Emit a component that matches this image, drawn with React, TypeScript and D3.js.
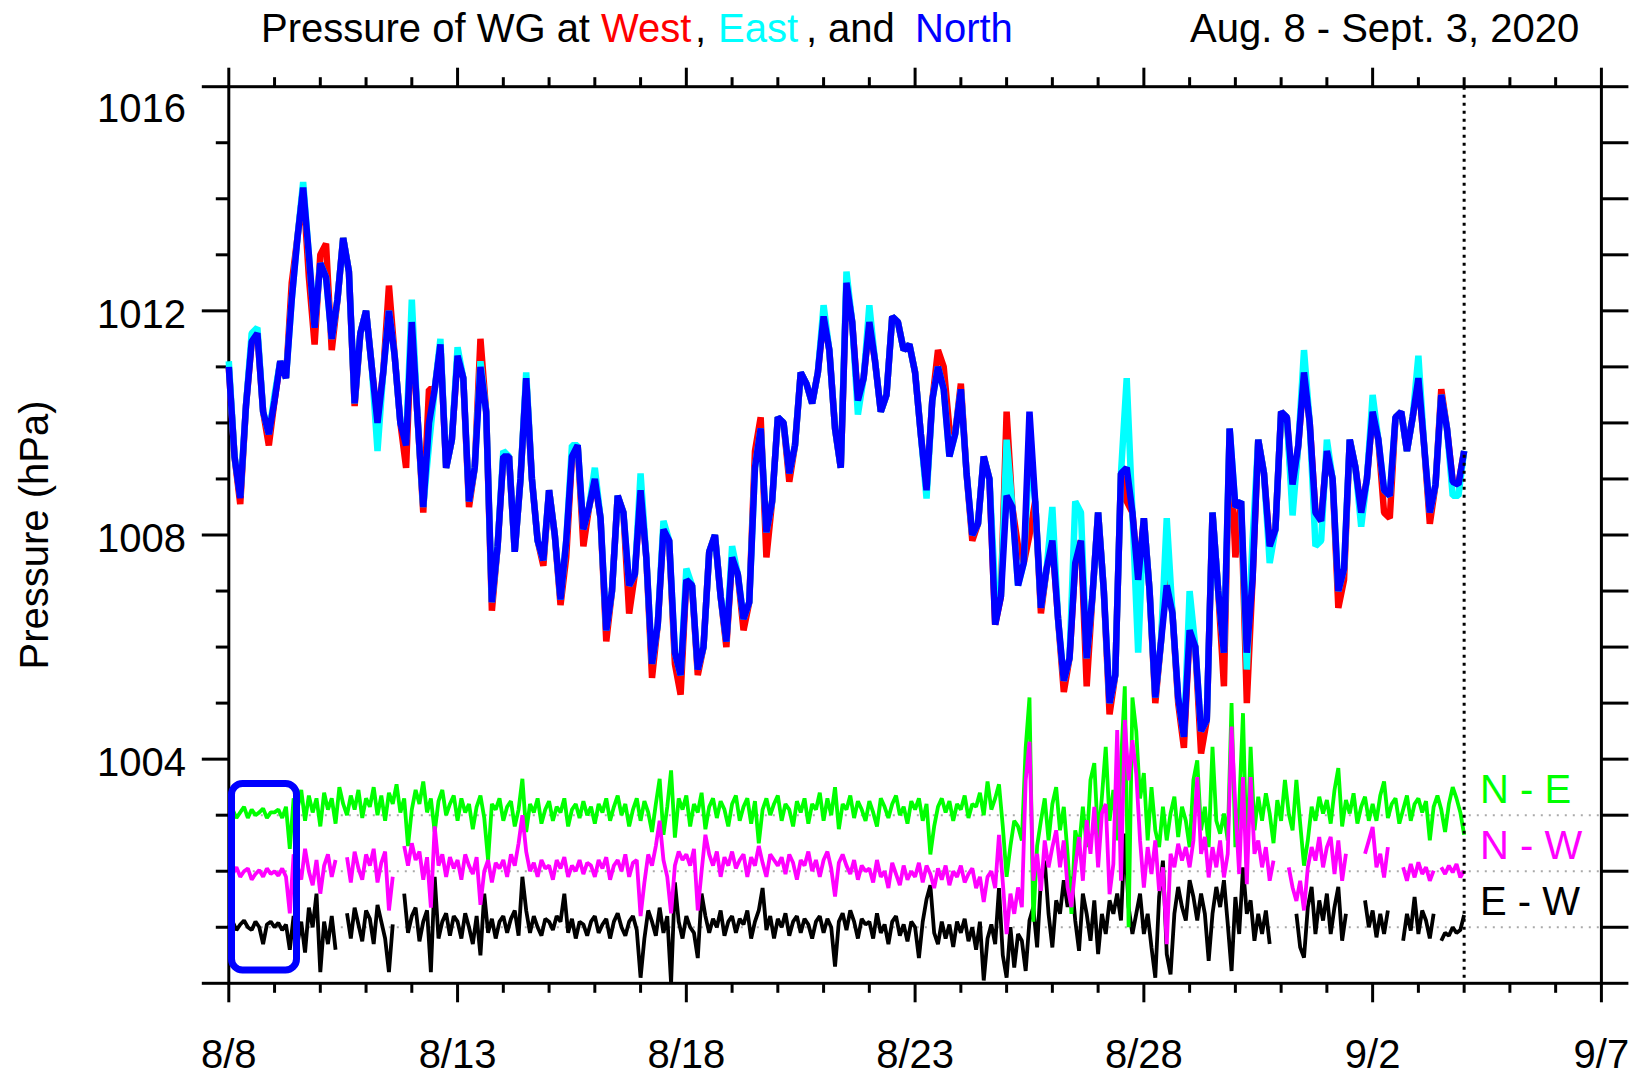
import React from 'react';
import * as d3 from 'd3';

// ---------------- data ----------------
// main series: one value every 3 hours, starting 8/8 00:00 (day 0)
const MAIN_STEP_DAYS = 3 / 24;
// difference series: one value every 2 hours, starting 8/8 00:00
const DIFF_STEP_DAYS = 2 / 24;

const northP = [
  1011.0, 1009.4, 1008.66, 1010.3, 1011.45, 1011.6, 1010.2, 1009.8,
  1010.4, 1011.1, 1010.8, 1012.2, 1013.3, 1014.2, 1013.0, 1011.7,
  1012.85, 1012.6, 1011.5, 1012.2, 1013.3, 1012.7, 1010.35, 1011.6,
  1012.0, 1011.0, 1010.0, 1010.9, 1012.0, 1011.2, 1010.0, 1009.6,
  1011.8, 1010.1, 1008.5, 1010.0, 1010.6, 1011.4, 1009.2, 1009.7,
  1011.2, 1010.8, 1008.6, 1009.2, 1011.0, 1010.2, 1006.8, 1007.8,
  1009.4, 1009.4, 1007.7, 1009.0, 1010.8, 1009.0, 1007.9, 1007.55,
  1008.8, 1008.0, 1006.85, 1007.9, 1009.4, 1009.6, 1008.1, 1008.5,
  1009.0, 1008.3, 1006.3, 1007.0, 1008.7, 1008.4, 1007.1, 1007.3,
  1008.8, 1007.6, 1005.7, 1006.4, 1008.1, 1007.9, 1005.9, 1005.5,
  1007.2, 1007.1, 1005.6, 1006.0, 1007.7, 1008.0, 1006.9, 1006.1,
  1007.6, 1007.3, 1006.5, 1006.8, 1009.2, 1009.9, 1008.05, 1008.6,
  1010.1, 1010.0, 1009.1, 1009.6, 1010.9, 1010.7, 1010.35, 1010.9,
  1011.9, 1011.3, 1009.9, 1009.2, 1012.5, 1011.8, 1010.4, 1010.8,
  1011.8, 1011.1, 1010.2, 1010.5, 1011.9, 1011.8, 1011.3, 1011.4,
  1010.9, 1009.8, 1008.8, 1010.4, 1011.0, 1010.6, 1009.4, 1009.8,
  1010.6, 1009.1, 1008.0, 1008.2, 1009.4, 1009.0, 1006.4, 1006.9,
  1008.7, 1008.5, 1007.1, 1007.5, 1010.2, 1008.6, 1006.7, 1007.4,
  1007.9, 1006.5, 1005.4, 1005.8, 1007.5, 1007.9, 1005.8, 1006.9,
  1008.4, 1007.0, 1005.0, 1005.5, 1009.1, 1009.2, 1008.4, 1007.2,
  1008.3, 1007.0, 1005.1, 1006.1, 1007.1, 1006.6, 1005.1, 1004.4,
  1006.3, 1006.0, 1004.5, 1004.7, 1008.4, 1007.0, 1005.9, 1009.9,
  1008.5, 1008.6, 1005.9, 1007.2, 1009.7, 1009.1, 1007.8, 1008.1,
  1010.2, 1010.1, 1008.9, 1009.6, 1010.9, 1010.0, 1008.4, 1008.25,
  1009.5, 1009.0, 1007.0, 1007.4, 1009.7, 1009.2, 1008.4, 1009.0,
  1010.2, 1009.7, 1008.8, 1008.7, 1010.1, 1010.2, 1009.5, 1010.1,
  1010.8, 1009.6, 1008.4, 1008.9, 1010.5, 1009.9, 1008.95, 1008.9,
  1009.5,
];

const westP = [
  1011.0, 1009.4, 1008.55, 1010.3, 1011.45, 1011.6, 1010.2, 1009.6,
  1010.4, 1011.1, 1010.8, 1012.5, 1013.3, 1014.2, 1012.6, 1011.4,
  1013.0, 1013.2, 1011.3, 1012.2, 1013.3, 1012.7, 1010.3, 1011.6,
  1012.0, 1011.0, 1010.0, 1010.9, 1012.45, 1011.2, 1010.0, 1009.2,
  1011.8, 1010.1, 1008.4, 1010.6, 1010.6, 1011.4, 1009.2, 1009.7,
  1011.2, 1010.8, 1008.5, 1009.2, 1011.5, 1010.2, 1006.65, 1007.8,
  1009.4, 1009.4, 1007.7, 1009.0, 1010.8, 1009.0, 1007.9, 1007.45,
  1008.8, 1008.0, 1006.75, 1007.6, 1009.4, 1009.6, 1007.8, 1008.5,
  1009.0, 1008.3, 1006.1, 1007.0, 1008.7, 1008.4, 1006.6, 1007.3,
  1008.8, 1007.6, 1005.45, 1006.4, 1008.1, 1007.9, 1005.7, 1005.15,
  1007.2, 1007.1, 1005.5, 1006.0, 1007.7, 1008.0, 1006.9, 1006.0,
  1007.6, 1007.3, 1006.3, 1006.8, 1009.5, 1010.1, 1007.6, 1008.6,
  1010.1, 1010.0, 1008.95, 1009.6, 1010.9, 1010.7, 1010.35, 1010.9,
  1011.9, 1011.3, 1009.9, 1009.2, 1012.5, 1011.8, 1010.4, 1010.8,
  1011.8, 1011.1, 1010.2, 1010.5, 1011.9, 1011.8, 1011.3, 1011.4,
  1010.9, 1009.8, 1008.8, 1010.4, 1011.3, 1011.0, 1009.9, 1009.8,
  1010.7, 1009.1, 1007.9, 1008.2, 1009.4, 1009.0, 1006.4, 1006.9,
  1010.2, 1008.5, 1007.8, 1007.5, 1008.0, 1008.6, 1006.6, 1007.4,
  1007.9, 1006.5, 1005.2, 1005.8, 1007.5, 1007.9, 1005.3, 1006.9,
  1008.4, 1007.0, 1004.8, 1005.5, 1009.1, 1008.6, 1008.4, 1007.2,
  1008.3, 1007.0, 1005.0, 1006.1, 1007.6, 1006.6, 1005.0, 1004.2,
  1006.3, 1006.0, 1004.1, 1004.7, 1008.4, 1007.0, 1005.3, 1009.9,
  1007.6, 1008.6, 1005.0, 1007.2, 1009.7, 1009.1, 1007.8, 1008.1,
  1010.2, 1010.1, 1008.6, 1009.6, 1010.9, 1010.0, 1008.4, 1008.25,
  1009.5, 1009.0, 1006.7, 1007.2, 1009.7, 1009.2, 1008.4, 1009.0,
  1010.2, 1009.7, 1008.4, 1008.3, 1010.1, 1010.2, 1009.5, 1010.1,
  1010.8, 1009.6, 1008.2, 1008.9, 1010.6, 1009.9, 1008.95, 1008.9,
  1009.5,
];

const eastP = [
  1011.1, 1009.4, 1008.7, 1010.3, 1011.6, 1011.7, 1010.2, 1009.8,
  1010.5, 1011.1, 1010.8, 1012.2, 1013.3, 1014.3, 1013.0, 1011.7,
  1012.85, 1012.6, 1011.5, 1012.2, 1013.3, 1012.7, 1010.35, 1011.6,
  1012.0, 1011.0, 1009.5, 1010.9, 1012.0, 1011.2, 1010.0, 1009.7,
  1012.2, 1010.1, 1008.5, 1009.6, 1010.6, 1011.5, 1009.2, 1009.7,
  1011.35, 1010.8, 1008.6, 1009.2, 1011.1, 1010.2, 1006.8, 1007.8,
  1009.5, 1009.4, 1007.7, 1009.0, 1010.9, 1009.0, 1007.9, 1007.55,
  1008.8, 1008.0, 1006.85, 1007.9, 1009.6, 1009.6, 1008.1, 1008.5,
  1009.2, 1008.3, 1006.3, 1007.0, 1008.7, 1008.4, 1007.1, 1007.3,
  1009.1, 1007.6, 1005.7, 1006.4, 1008.25, 1007.9, 1005.9, 1005.5,
  1007.4, 1007.1, 1005.6, 1006.0, 1007.7, 1008.0, 1006.9, 1006.1,
  1007.8, 1007.3, 1006.5, 1006.8, 1009.2, 1009.9, 1008.05, 1008.6,
  1010.1, 1010.0, 1009.1, 1009.6, 1010.9, 1010.7, 1010.35, 1010.9,
  1012.1, 1011.3, 1009.9, 1009.2, 1012.7, 1011.8, 1010.15, 1010.8,
  1012.1, 1011.1, 1010.2, 1010.5, 1011.9, 1011.8, 1011.3, 1011.4,
  1010.9, 1009.8, 1008.65, 1010.4, 1011.0, 1010.6, 1009.4, 1009.8,
  1010.6, 1009.1, 1008.0, 1008.2, 1009.4, 1009.0, 1007.0, 1006.9,
  1009.7, 1008.5, 1007.1, 1007.5, 1009.5, 1008.6, 1006.7, 1007.4,
  1008.5, 1006.5, 1005.4, 1005.8, 1008.6, 1008.4, 1005.8, 1006.9,
  1008.4, 1007.0, 1005.0, 1005.5, 1009.1, 1010.8, 1008.4, 1005.9,
  1008.3, 1007.0, 1005.1, 1006.1, 1008.3, 1006.6, 1005.1, 1004.4,
  1007.0, 1006.0, 1004.5, 1004.7, 1008.4, 1007.0, 1005.9, 1009.9,
  1008.5, 1008.6, 1005.6, 1007.9, 1009.7, 1009.1, 1007.5, 1008.1,
  1010.2, 1010.1, 1008.35, 1009.6, 1011.3, 1010.0, 1007.8, 1007.9,
  1009.7, 1009.0, 1007.0, 1007.4, 1009.7, 1009.2, 1008.15, 1009.0,
  1010.5, 1009.7, 1008.8, 1008.7, 1010.1, 1010.2, 1009.5, 1010.1,
  1011.2, 1009.6, 1008.4, 1008.9, 1010.5, 1009.9, 1008.7, 1008.7,
  1009.5,
];

// differences as plotted (hPa, relative to their own reference level)
const nMinusE: (number | null)[] = [
  0.05, 0.1, -0.05, 0.05, 0.15, -0.05, 0.1, 0.0, 0.05, 0.12, -0.05, 0.05,
  0.05, 0.1, -0.05, 0.15, -0.6, 0.3, 0.1, 0.45, -0.1, 0.35, 0.05, 0.3,
  -0.2, 0.4, 0.1, 0.3, -0.15, 0.5, 0.2, 0.0, 0.35, 0.1, 0.45, -0.05,
  0.3, 0.15, 0.5, 0.0, 0.35, -0.1, 0.4, 0.2, 0.55, 0.05, 0.3, -0.55,
  0.1, 0.45, 0.2, 0.6, 0.05, 0.3, -0.3, 0.25, 0.45, 0.0, 0.2, 0.35,
  -0.1, 0.3, 0.05, 0.2, -0.25, 0.15, 0.35, -0.05, -0.8, 0.2, 0.1, 0.3,
  -0.1, 0.15, 0.25, -0.2, 0.1, 0.65, -0.3, 0.2, 0.05, 0.3, -0.15, 0.1,
  0.25, -0.1, 0.15, 0.05, 0.3, -0.2, 0.1, 0.2, -0.05, 0.25, 0.0, 0.15,
  -0.15, 0.2, 0.05, 0.3, -0.1, 0.15, 0.35, 0.0, 0.2, -0.2, 0.1, 0.3,
  -0.1, 0.25, 0.05, -0.3, 0.2, 0.65, -0.35, 0.15, 0.8, -0.4, 0.3, 0.1,
  0.35, -0.2, 0.2, 0.05, 0.4, -0.25, 0.15, 0.3, -0.05, 0.25, 0.1, -0.2,
  0.2, 0.35, -0.1, 0.15, 0.3, -0.15, 0.25, -0.5, 0.1, 0.3, 0.0, 0.2,
  0.35, -0.1, 0.2, 0.1, -0.2, 0.25, 0.05, 0.3, -0.15, 0.2, 0.1, 0.4,
  -0.1, 0.3, 0.0, 0.5, -0.25, 0.2, 0.1, 0.35, -0.05, 0.25, 0.1, -0.1,
  0.25, 0.05, -0.2, 0.3, 0.15, -0.05, 0.2, 0.35, 0.0, 0.15, -0.15, 0.25,
  0.1, 0.3, -0.1, 0.2, -0.7, -0.2, 0.15, 0.3, 0.05, 0.25, -0.1, 0.2,
  0.1, 0.35, -0.05, 0.2, 0.15, 0.4, 0.0, 0.6, 0.1, 0.3, 0.55, -0.2,
  -1.1, -0.55, -0.1, -0.2, -0.45, 1.2, 2.1, -1.9, -0.55, -0.1, 0.3, -0.45,
  0.2, 0.5, -0.27, 0.15, -0.7, -1.76, -0.27, -0.57, 0.15, -0.57, 0.63, 0.93,
  -0.45, 0.33, 1.22, -0.1, 0.45, -0.45, 0.93, 2.3, -2.0, 2.1, 1.5, 0.3,
  0.75, -0.45, 0.5, -0.27, -0.57, 0.15, -0.45, 0.03, 0.33, -0.39, 0.15, -0.1,
  -0.57, 0.63, 0.98, -0.27, 0.15, -0.57, 1.22, -0.1, -0.33, 0.03, -0.45, 2.0,
  -0.57, 0.15, 1.82, -0.87, 1.22, -0.27, 0.33, -0.1, 0.39, 0.03, -0.5, 0.27,
  -0.1, 0.63, 0.03, -0.27, 0.63, -0.15, -0.9, -0.45, 0.15, -0.1, 0.33, 0.03,
  0.27, -0.15, 0.45, 0.84, -0.2, 0.27, 0.03, 0.39, -0.15, 0.15, 0.33, -0.1,
  0.2, -0.1, 0.35, 0.6, -0.05, 0.2, 0.3, -0.15, 0.1, 0.35, -0.1, 0.2,
  0.3, 0.05, 0.25, -0.45, 0.15, 0.35, 0.1, -0.3, 0.2, 0.5, 0.3, 0.05,
  -0.35,
];

const nMinusW: (number | null)[] = [
  0.0, -0.05, 0.07, -0.1, 0.0, 0.05, -0.15, -0.05, 0.02, -0.1, 0.05, -0.05,
  0.0, -0.08, 0.05, -0.1, -0.75, 0.3, 0.1, -0.15, 0.4, 0.0, -0.25, 0.2,
  -0.4, 0.1, 0.3, -0.1, 0.2, null, null, 0.25, -0.2, 0.35, 0.05, -0.15,
  0.3, 0.1, 0.4, -0.2, 0.15, 0.35, -0.7, -0.1, null, null, 0.45, 0.1,
  0.5, 0.2, 0.35, -0.15, 0.25, -0.65, 0.8, 0.1, 0.3, -0.1, 0.25, 0.05,
  0.2, -0.15, 0.3, 0.1, -0.05, 0.25, -0.6, 0.0, 0.2, -0.2, 0.15, 0.05,
  0.2, -0.1, 0.3, 0.1, 0.5, 1.0, 0.35, 0.0, 0.15, -0.1, 0.2, 0.05,
  0.1, -0.15, 0.2, 0.05, 0.25, -0.1, 0.1, 0.0, 0.2, -0.05, 0.15, 0.1,
  -0.1, 0.2, 0.05, 0.25, -0.15, 0.1, 0.2, 0.0, 0.3, -0.1, 0.15, 0.2,
  -0.8, -0.2, 0.3, 0.1, 0.45, 0.9, 0.2, -0.1, -0.75, 0.1, 0.35, 0.2,
  0.3, 0.1, 0.4, -0.7, 0.0, 0.65, 0.3, 0.1, 0.35, -0.1, 0.25, 0.1,
  0.35, 0.05, 0.2, 0.3, -0.1, 0.25, 0.1, 0.45, 0.15, -0.1, 0.3, 0.2,
  0.1, 0.25, -0.05, 0.3, 0.15, -0.15, 0.2, 0.1, 0.35, 0.0, 0.2, -0.1,
  0.2, 0.35, 0.05, -0.45, 0.15, 0.3, 0.1, -0.05, 0.2, -0.15, 0.1, 0.0,
  0.05, -0.2, 0.2, -0.1, 0.0, -0.3, 0.15, -0.05, -0.25, 0.1, -0.15, 0.0,
  -0.1, 0.15, -0.2, 0.1, -0.05, -0.3, 0.05, -0.15, 0.1, -0.25, 0.0, -0.1,
  0.1, -0.2, -0.05, 0.05, -0.3, -0.1, -0.55, -0.1, 0.0, -0.3, 0.65, -0.2,
  -1.12, -0.4, -0.76, -0.29, -0.64, 1.62, 2.31, -0.17, 0.31, -0.35, 0.55, 0.07,
  0.43, 0.73, 0.07, 0.55, -0.29, -0.64, 0.07, 0.61, -0.17, 0.91, 0.31, 1.15,
  0.07, 1.03, 1.2, -0.41, 0.13, 2.52, -0.17, 2.7, 1.62, 2.34, 1.74, 0.55,
  -0.29, 0.43, -0.05, 0.55, -0.35, 0.07, -1.3, 0.31, 0.07, 0.49, 0.19, 0.43,
  0.07, 0.55, 1.68, 0.31, 0.61, -0.11, 0.43, 0.07, 0.55, -0.11, 0.31, 2.58,
  1.15, -0.05, 1.68, -0.23, 1.68, 0.31, 0.55, 0.07, 0.43, -0.17, 0.19, null,
  null, null, 0.07, -0.29, -0.53, -0.17, -0.7, 0.07, 0.43, 0.19, 0.61, 0.07,
  0.43, 0.61, -0.05, 0.55, -0.17, 0.31, null, null, null, null, 0.31, 0.55,
  0.79, 0.07, 0.31, -0.11, 0.43, null, null, null, 0.07, -0.17, 0.13, -0.11,
  0.16, -0.05, 0.07, -0.17, 0.01, null, 0.07, -0.05, 0.1, -0.02, 0.13, -0.11,
  0.01,
];

const eMinusW: (number | null)[] = [
  0.0, 0.1, -0.05, 0.05, 0.12, 0.0, -0.05, 0.1, 0.0, -0.3, 0.05, 0.1,
  0.0, 0.08, -0.05, 0.05, -0.4, 0.2, -0.3, 0.1, -0.45, 0.35, 0.0, 0.6,
  -0.8, 0.1, -0.3, 0.2, -0.4, null, null, 0.25, -0.2, 0.35, 0.05, -0.25,
  0.3, 0.15, -0.3, 0.4, 0.1, -0.2, -0.8, 0.05, null, null, 0.6, -0.1,
  0.2, 0.35, -0.25, 0.1, 0.3, -0.8, 0.9, -0.2, 0.1, 0.25, -0.15, 0.2,
  0.1, -0.2, 0.25, 0.0, -0.3, 0.2, -0.5, 0.6, -0.1, 0.15, -0.2, 0.1,
  0.2, -0.1, 0.15, 0.3, -0.15, 0.9, 0.3, -0.1, 0.2, 0.0, -0.15, 0.15,
  0.1, -0.05, 0.2, 0.1, 0.6, -0.1, 0.15, -0.2, 0.1, 0.05, -0.15, 0.1,
  0.2, -0.1, 0.05, 0.15, -0.2, 0.1, 0.25, 0.0, -0.15, 0.1, 0.2, -0.05,
  -0.9, -0.2, 0.3, 0.1, -0.15, 0.35, -0.1, 0.2, -1.0, 0.8, 0.1, -0.2,
  0.2, 0.0, -0.1, -0.55, 0.6, 0.2, -0.1, 0.15, 0.0, 0.3, -0.15, 0.1,
  0.2, -0.1, 0.15, 0.05, 0.3, -0.2, 0.1, 0.3, 0.7, -0.05, 0.2, -0.2,
  0.15, 0.0, 0.25, -0.15, 0.1, 0.2, -0.1, 0.15, 0.05, -0.2, 0.1, 0.2,
  -0.1, 0.15, 0.0, -0.7, 0.1, 0.25, -0.05, 0.3, 0.1, -0.2, 0.15, 0.05,
  0.1, -0.2, 0.25, -0.1, 0.05, -0.3, 0.1, 0.2, -0.15, 0.05, -0.25, 0.1,
  0.0, -0.55, 0.1, 0.5, 0.75, -0.1, -0.3, 0.1, -0.2, 0.05, -0.35, 0.1,
  -0.1, 0.15, -0.25, 0.0, -0.4, 0.1, -0.95, -0.2, 0.05, -0.3, 0.7, -0.5,
  -0.9, 0.0, -0.72, -0.12, -0.24, -0.78, 0.12, 0.36, -0.36, 0.84, 1.19, 0.24,
  -0.36, 0.48, 0.24, 0.84, 0.36, 0.9, 0.12, -0.42, 0.6, 0.24, -0.24, 0.48,
  -0.48, 0.24, -0.12, 0.48, 0.24, 0.6, 0.12, 1.67, 0.36, -0.12, 0.24, 0.6,
  -0.12, 0.24, -0.36, -0.9, 0.54, 1.19, -0.48, -0.84, 0.24, 0.72, 0.36, 0.12,
  0.84, 0.54, 0.12, 0.6, 0.24, -0.6, 0.24, 0.72, 0.36, 0.84, 0.06, -0.78,
  0.54, -0.12, 1.07, 0.24, 0.48, -0.24, 0.24, -0.12, 0.3, -0.3, null, null,
  null, null, null, null, 0.24, -0.36, -0.54, 0.36, 0.72, -0.12, 0.48, 0.12,
  0.6, -0.12, 0.36, 0.72, -0.24, 0.24, null, null, null, null, 0.48, 0.0,
  0.3, -0.18, 0.24, -0.12, 0.3, null, null, null, -0.24, 0.24, -0.06, 0.54,
  -0.12, 0.3, 0.12, -0.2, 0.24, null, -0.24, -0.1, -0.15, 0.0, -0.1, -0.05,
  0.22,
];

const xTickLabels = ['8/8', '8/13', '8/18', '8/23', '8/28', '9/2', '9/7'];
const yTickLabels = [1004, 1008, 1012, 1016];
const DAYS_SHOWN = 30;
const DATA_END_DAY = 27;

// ---------------- drawing ----------------
const W = 1637;
const H = 1079;
const PLOT = { left: 228.8, right: 1601.4, top: 86.7, bottom: 983.3 };
const FONT = "'Liberation Sans', Arial, Helvetica, sans-serif";

export default function App() {
  const x = d3.scaleLinear().domain([0, DAYS_SHOWN]).range([PLOT.left, PLOT.right]);
  const y = d3.scaleLinear().domain([1000, 1016]).range([PLOT.bottom, PLOT.top]);

  const mainPath = (arr: number[]) =>
    d3.line<number>()
      .x((_, i) => x(i * MAIN_STEP_DAYS))
      .y((d) => y(d))(arr) || '';

  const diffPath = (arr: (number | null)[], base: number) =>
    d3.line<number | null>()
      .defined((d) => d !== null)
      .x((_, i) => x(i * DIFF_STEP_DAYS))
      .y((d) => y(base + (d as number)))(arr) || '';

  const dayTicks = d3.range(0, DAYS_SHOWN + 1);
  const pTicks = d3.range(1000, 1017);

  const diffs = [
    { data: eMinusW, base: 1001, color: '#000000', label: 'E - W' },
    { data: nMinusE, base: 1003, color: '#00ff00', label: 'N - E' },
    { data: nMinusW, base: 1002, color: '#ff00ff', label: 'N - W' },
  ];

  const titleParts = [
    { t: 'Pressure of WG at', x: 261, c: '#000' },
    { t: 'West', x: 601, c: '#ff0000' },
    { t: ',', x: 695, c: '#000' },
    { t: 'East', x: 718, c: '#00ffff' },
    { t: ',', x: 806, c: '#000' },
    { t: 'and', x: 828, c: '#000' },
    { t: 'North', x: 915, c: '#0000ff' },
    { t: 'Aug. 8 - Sept. 3, 2020', x: 1190, c: '#000' },
  ];

  return (
    <svg
      width={W}
      height={H}
      viewBox={`0 0 ${W} ${H}`}
      style={{ position: 'absolute', left: 0, top: 0, background: '#fff' }}
      fontFamily={FONT}
    >
      <rect x={0} y={0} width={W} height={H} fill="#fff" />

      {/* title */}
      {titleParts.map((p, i) => (
        <text key={i} x={p.x} y={42} fontSize={40} fill={p.c}>
          {p.t}
        </text>
      ))}

      {/* reference levels for differences */}
      {[1003, 1002, 1001].map((b) => (
        <line
          key={b}
          x1={PLOT.left}
          x2={PLOT.right}
          y1={y(b)}
          y2={y(b)}
          stroke="#aaaaaa"
          strokeWidth={2}
          strokeDasharray="2 6"
        />
      ))}

      {/* frame */}
      <rect
        x={PLOT.left}
        y={PLOT.top}
        width={PLOT.right - PLOT.left}
        height={PLOT.bottom - PLOT.top}
        fill="none"
        stroke="#000"
        strokeWidth={3}
      />

      {/* x ticks */}
      {dayTicks.map((d) => {
        const len = d % 5 === 0 ? 19 : 9.5;
        return (
          <g key={d}>
            <line x1={x(d)} x2={x(d)} y1={PLOT.bottom} y2={PLOT.bottom + len} stroke="#000" strokeWidth={3} />
            <line x1={x(d)} x2={x(d)} y1={PLOT.top} y2={PLOT.top - len} stroke="#000" strokeWidth={3} />
          </g>
        );
      })}

      {/* y ticks */}
      {pTicks.map((p) => {
        const len = p % 4 === 0 ? 27 : 13;
        return (
          <g key={p}>
            <line x1={PLOT.left} x2={PLOT.left - len} y1={y(p)} y2={y(p)} stroke="#000" strokeWidth={3} />
            <line x1={PLOT.right} x2={PLOT.right + 27} y1={y(p)} y2={y(p)} stroke="#000" strokeWidth={3} />
          </g>
        );
      })}

      {/* x labels */}
      {xTickLabels.map((lab, i) => (
        <text key={lab} x={x(i * 5)} y={1068} fontSize={40} textAnchor="middle" fill="#000">
          {lab}
        </text>
      ))}

      {/* y labels */}
      {yTickLabels.map((p) => (
        <text
          key={p}
          x={186}
          y={Math.max(y(p) + 17, PLOT.top + 35)}
          fontSize={40}
          textAnchor="end"
          fill="#000"
        >
          {p}
        </text>
      ))}

      {/* y title */}
      <text
        transform={`translate(48, ${(PLOT.top + PLOT.bottom) / 2}) rotate(-90)`}
        fontSize={40}
        textAnchor="middle"
        fill="#000"
      >
        Pressure (hPa)
      </text>

      {/* main pressure series */}
      <path d={mainPath(westP)} fill="none" stroke="#ff0000" strokeWidth={6.5} strokeLinejoin="bevel" />
      <path d={mainPath(eastP)} fill="none" stroke="#00ffff" strokeWidth={6.5} strokeLinejoin="bevel" />
      <path d={mainPath(northP)} fill="none" stroke="#0000ff" strokeWidth={6.5} strokeLinejoin="bevel" />

      {/* differences */}
      {diffs.map((s) => (
        <path
          key={s.label}
          d={diffPath(s.data, s.base)}
          fill="none"
          stroke={s.color}
          strokeWidth={3.8}
          strokeLinejoin="bevel"
        />
      ))}

      {/* difference labels */}
      {diffs.map((s) => (
        <text key={s.label + 't'} x={1480} y={y(s.base) - 12} fontSize={40} fill={s.color}>
          {s.label}
        </text>
      ))}

      {/* end of record marker */}
      <line
        x1={x(DATA_END_DAY)}
        x2={x(DATA_END_DAY)}
        y1={PLOT.top}
        y2={PLOT.bottom}
        stroke="#000"
        strokeWidth={3}
        strokeDasharray="3 5"
      />

      {/* highlight box */}
      <rect x={231.5} y={783.5} width={65} height={186.5} rx={11} ry={11} fill="none" stroke="#0000ff" strokeWidth={7} />
    </svg>
  );
}
